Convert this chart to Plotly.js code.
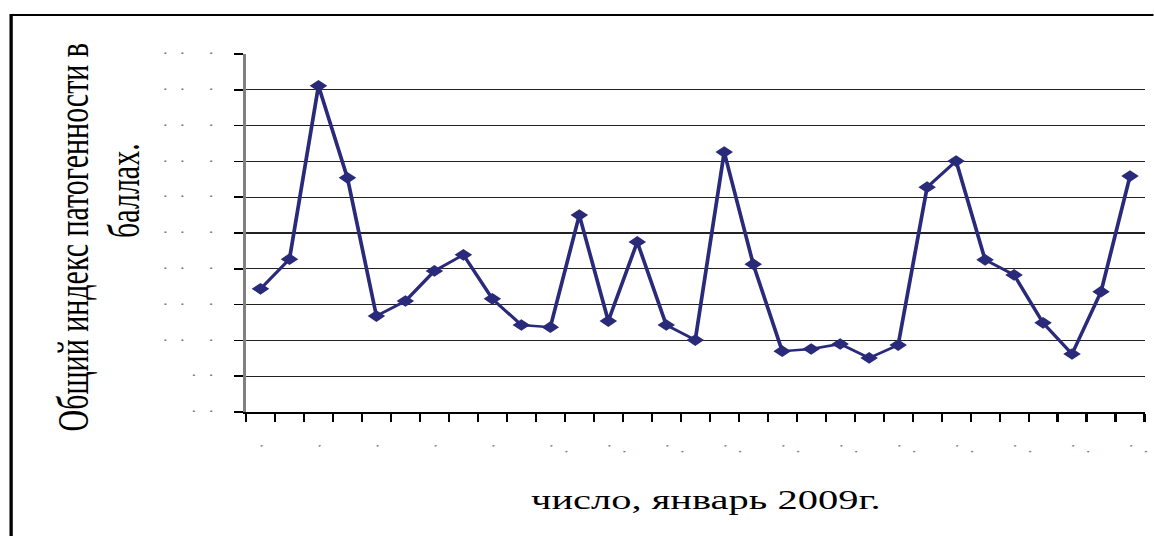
<!DOCTYPE html>
<html><head><meta charset="utf-8">
<script src="https://cdn.plot.ly/plotly-3.0.1.min.js"></script>
<style>
html,body{margin:0;padding:0;background:#fff;overflow:hidden;}
#wrap{width:1154px;height:536px;overflow:hidden;position:relative;}
#chart{width:769.333px;height:536px;transform:scaleX(1.5);transform-origin:0 0;}
</style></head><body><div id="wrap"><div id="chart"></div></div>
<script>
// categories: day of January 2009
const days = ['1','2','3','4','5','6','7','8','9','10','11','12','13','14','15','16','17','18','19','20','21','22','23','24','25','26','27','28','29','30','31'];
// general pathogenicity index, points
const index = [3.44,4.27,9.11,6.54,2.68,3.10,3.94,4.39,3.16,2.43,2.37,5.50,2.54,4.75,2.43,2.01,7.26,4.13,1.70,1.76,1.90,1.51,1.87,6.28,7.01,4.25,3.83,2.49,1.62,3.36,6.59];
// tick labels as they appear (rendered as dots in the source)
const D1 = '\u00b7';
const D2 = '\u00b7\u00a0\u00a0\u00b7';
const D3 = '\u00b7\u00a0\u00a0\u00b7\u00a0\u00a0\u00a0\u00a0\u00b7';
const xTickText = [D1,'',D1,'',D1,'',D1,'',D1,'',D2,'',D2,'',D2,'',D2,'',D2,'',D2,'',D2,'',D2,'',D2,'',D2,'',D2];
const yTickVals = [0,1,2,3,4,5,6,7,8,9,10];
const yTickText = [D2,D2,D3,D3,D3,D3,D3,D3,D3,D3,D3];

const yTitle1 = 'Общий индекс патогенности в';
const yTitle2 = 'баллах.';
const xTitle = 'число, январь 2009г.';

const navy = '#2a2a7a';
const serif = 'Liberation Serif';

const trace = {
  type: 'scatter', mode: 'lines+markers',
  x: days, y: index,
  line: {color: navy, width: 2.5},
  marker: {symbol: 'diamond', size: 9, color: navy},
  hoverinfo: 'skip'
};

const L = 164, R = 6, T = 54, B = 124;
const layout = {
  width: 769.333, height: 536,
  margin: {l: L, r: R, t: T, b: B, pad: 0},
  paper_bgcolor: '#fff', plot_bgcolor: '#fff',
  showlegend: false,
  font: {family: serif},
  xaxis: {
    type: 'category', tickson: 'boundaries',
    range: [-0.5, days.length - 0.5], autorange: false,
    tickmode: 'array', tickvals: days, ticktext: xTickText,
    ticks: 'outside', ticklen: 8, tickwidth: 1.4, tickcolor: '#000',
    showline: true, linecolor: '#000', linewidth: 2,
    showgrid: false, zeroline: false,
    tickfont: {family: 'DejaVu Sans', size: 12, color: '#777'},
    ticklabelstandoff: 21, fixedrange: true
  },
  yaxis: {
    range: [0, 10], autorange: false,
    tickmode: 'array', tickvals: yTickVals, ticktext: yTickText,
    ticks: 'outside', ticklen: 6, tickwidth: 1.5, tickcolor: '#000',
    showline: true, linecolor: '#808080', linewidth: 2,
    showgrid: true, gridcolor: '#222', gridwidth: 1.2,
    zeroline: false,
    tickfont: {family: 'DejaVu Sans', size: 12, color: '#777'},
    ticklabelstandoff: 11, fixedrange: true
  },
  annotations: [
    {text: yTitle1, xref: 'paper', yref: 'paper', x: -0.1928, y: 0.489,
     xanchor: 'center', yanchor: 'middle', textangle: -90, showarrow: false,
     font: {family: serif, size: 30, color: '#000'}},
    {text: yTitle2, xref: 'paper', yref: 'paper', x: -0.1371, y: 0.62,
     xanchor: 'center', yanchor: 'middle', textangle: -90, showarrow: false,
     font: {family: serif, size: 30, color: '#000'}},
    {text: xTitle, xref: 'paper', yref: 'paper', x: 0.511, y: -0.2458,
     xanchor: 'center', yanchor: 'middle', showarrow: false,
     font: {family: serif, size: 27, color: '#000'}}
  ],
  shapes: [
    {type: 'rect', xref: 'paper', yref: 'paper', x0: -0.2614, x1: 1.3, y0: -0.6, y1: 1.109,
     line: {color: '#000', width: 2.2}, fillcolor: 'rgba(0,0,0,0)', layer: 'above'}
  ]
};

Plotly.newPlot('chart', [trace], layout, {displayModeBar: false, staticPlot: true, responsive: false});
</script>
</body></html>
